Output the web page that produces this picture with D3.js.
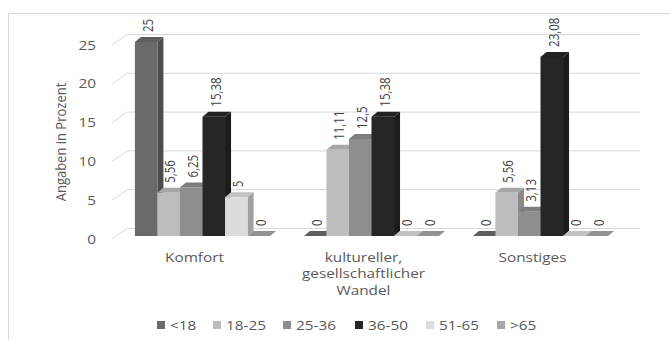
<!DOCTYPE html>
<html>
<head>
<meta charset="utf-8">
<script src="https://cdn.jsdelivr.net/npm/d3@7/dist/d3.min.js"></script>
<style>
  html, body { margin: 0; padding: 0; background: #fff; }
  svg { display: block; font-family: "Open Sans", "Noto Sans", sans-serif; }
</style>
</head>
<body>
<svg id="chart" width="670" height="340"></svg>
<script>
// Reasons by age group (percent)
const categories = [["Komfort"], ["kultureller,", "gesellschaftlicher", "Wandel"], ["Sonstiges"]];
const ageGroups = ["<18", "18-25", "25-36", "36-50", "51-65", ">65"];
const valuesUnder18 = [25, 0, 0];
const values18to25 = [5.56, 11.11, 5.56];
const values25to36 = [6.25, 12.5, 3.13];
const values36to50 = [15.38, 15.38, 23.08];
const values51to65 = [5, 0, 0];
const valuesOver65 = [0, 0, 0];
const yTicks = [0, 5, 10, 15, 20, 25];
const seriesColors = ["#6a6a6a", "#bdbdbd", "#8e8e8e", "#262626", "#dcdcdc", "#a6a6a6"];

const series = [valuesUnder18, values18to25, values25to36, values36to50, values51to65, valuesOver65];

const svg = d3.select("#chart");

// text is drawn slightly wide (horizontal stretch)
const SX = 1.18;

// outer frame
svg.append("path").attr("d", "M8.5,340 V13.5 H670")
  .attr("fill", "none").attr("stroke", "#d9d9d9").attr("stroke-width", 1);

// 3D geometry: front plane, back wall offset, bar depth
const wallDx = 16, wallDy = -11;
const barOffDx = 3, barOffDy = -3;
const depthDx = 6, depthDy = -5;

const y = d3.scaleLinear().domain([0, 25]).range([239, 45]);
const frontLeft = 112, frontRight = 624;

const x0 = d3.scaleBand().domain(d3.range(categories.length)).range([115, 622])
  .paddingInner(0.2).paddingOuter(0.1);
const x1 = d3.scaleBand().domain(d3.range(ageGroups.length)).range([0, x0.bandwidth()]);

// gridlines on back wall with diagonal connectors to the front axis
const grid = svg.append("g");
yTicks.forEach(t => {
  grid.append("line")
    .attr("x1", frontLeft + wallDx).attr("x2", frontRight + wallDx)
    .attr("y1", y(t) + wallDy + 0.5).attr("y2", y(t) + wallDy + 0.5)
    .attr("stroke", "#d9d9d9").attr("stroke-width", 1);
  grid.append("line")
    .attr("x1", frontLeft).attr("y1", y(t))
    .attr("x2", frontLeft + wallDx).attr("y2", y(t) + wallDy)
    .attr("stroke", "#d9d9d9").attr("stroke-width", 1);
});

// y tick labels
svg.append("g").selectAll("g").data(yTicks).join("g")
  .attr("transform", d => `translate(96,${y(d)}) scale(${SX},1)`)
  .append("text").attr("dy", "0.35em")
  .attr("text-anchor", "end").attr("font-size", 13).attr("fill", "#595959")
  .text(d => d);

// y axis title
svg.append("text")
  .attr("transform", `translate(61,142) scale(1.12,1) rotate(-90)`)
  .attr("text-anchor", "middle").attr("dy", "0.35em").attr("font-size", 13).attr("fill", "#595959")
  .text("Angaben in Prozent");

// bars
const bars = svg.append("g");
const fmt = v => String(v).replace(".", ",");
categories.forEach((cat, ci) => {
  series.forEach((vals, si) => {
    const v = vals[ci];
    const c = d3.color(seriesColors[si]);
    const xl = x0(ci) + x1(si) + barOffDx;
    const w = x1.bandwidth();
    const xr = xl + w;
    const yb = y(0) + barOffDy;
    const yt = y(v) + barOffDy;
    const g = bars.append("g");
    if (v > 0) {
      // right side face
      g.append("path")
        .attr("d", `M${xr},${yt} L${xr + depthDx},${yt + depthDy} L${xr + depthDx},${yb + depthDy} L${xr},${yb} Z`)
        .attr("fill", c.darker(0.9));
    }
    // top face
    g.append("path")
      .attr("d", `M${xl},${yt} L${xr},${yt} L${xr + depthDx},${yt + depthDy} L${xl + depthDx},${yt + depthDy} Z`)
      .attr("fill", c.darker(0.35));
    if (v > 0) {
      // front face
      g.append("rect").attr("x", xl).attr("y", yt).attr("width", w).attr("height", yb - yt)
        .attr("fill", c);
    }
  });
});

// value labels
const labels = svg.append("g");
categories.forEach((cat, ci) => {
  series.forEach((vals, si) => {
    const v = vals[ci];
    const cx = x0(ci) + x1(si) + barOffDx + x1.bandwidth() / 2 + 1.5;
    const ty = y(v) + barOffDy + depthDy - 5;
    labels.append("text")
      .attr("transform", `translate(${cx},${ty}) scale(1.3,1) rotate(-90)`)
      .attr("dy", "0.35em")
      .attr("font-size", 11.5).attr("fill", "#404040")
      .text(fmt(v));
  });
});

// category labels
const catG = svg.append("g");
categories.forEach((lines, ci) => {
  const t = catG.append("g")
    .attr("transform", `translate(${x0(ci) + x0.bandwidth() / 2 - 5},262) scale(${SX},1)`)
    .append("text")
    .attr("text-anchor", "middle").attr("font-size", 13).attr("fill", "#595959");
  lines.forEach((ln, li) => {
    t.append("tspan").attr("x", 0).attr("dy", li === 0 ? 0 : 16.5).text(ln);
  });
});

// legend
const legendX = [157, 213, 283, 355, 426, 497];
const leg = svg.append("g");
ageGroups.forEach((name, i) => {
  leg.append("rect").attr("x", legendX[i]).attr("y", 321).attr("width", 8).attr("height", 8)
    .attr("fill", seriesColors[i]);
  leg.append("g").attr("transform", `translate(${legendX[i] + 13},325) scale(${SX},1)`)
    .append("text").attr("dy", "0.35em")
    .attr("font-size", 13).attr("fill", "#595959").text(name);
});
</script>
</body>
</html>
